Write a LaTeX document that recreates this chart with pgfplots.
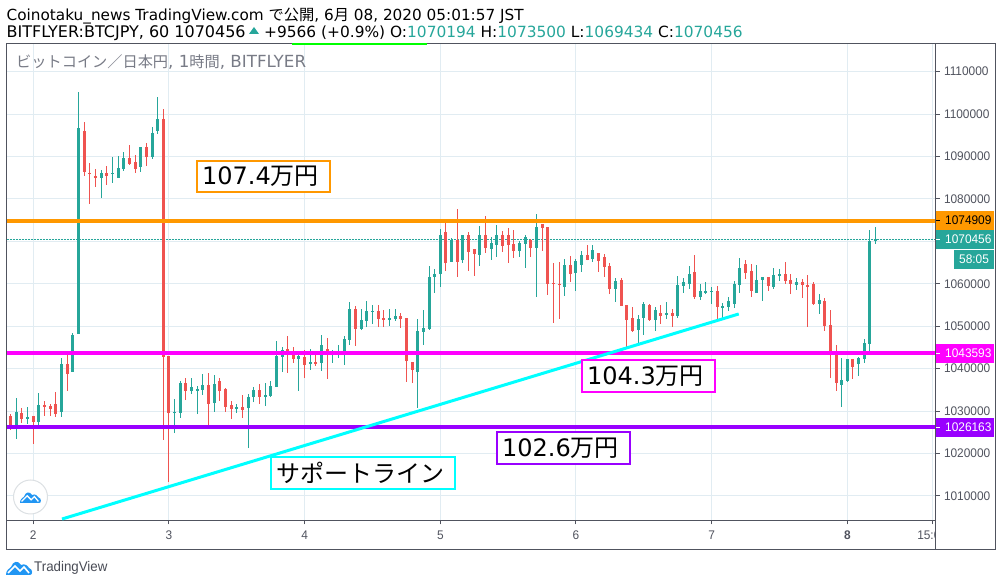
\documentclass[border=0pt]{standalone}
\usepackage{fontspec}
\usepackage{pgfplots}
\usepackage{pgfplotstable}
\pgfplotsset{compat=1.18}
\setmainfont{DejaVu Sans}
\newfontfamily\cjk{Noto Sans CJK JP}
\newfontfamily\tickf[FakeStretch=0.95]{Liberation Sans}
\definecolor{tvup}{HTML}{26A69A}
\definecolor{tvdn}{HTML}{EF5350}
\definecolor{tvgrid}{HTML}{E1ECF2}
\definecolor{tvframe}{HTML}{50535E}
\definecolor{tvorange}{HTML}{FF9800}
\definecolor{tvpurple}{HTML}{9900FF}
\definecolor{tvblue}{HTML}{2196F3}
\definecolor{tvgray}{HTML}{787B86}
\definecolor{tvmag}{HTML}{FF00FF}
\definecolor{tvcyan}{HTML}{00FFFF}
\definecolor{tvlime}{HTML}{00FF00}

% i open high low close
\pgfplotstableread{
i o h l c
-3 1026700 1033200 1023500 1029900
-1 1028200 1031000 1027000 1028700
1 1027500 1034300 1026800 1031500
5 1029900 1042600 1028700 1041200
7 1039300 1048500 1039300 1048000
8 1048200 1105300 1048200 1096800
12 1085000 1086900 1080300 1086200
14 1085900 1089900 1083800 1086200
15 1085000 1090200 1085000 1087400
16 1087100 1091100 1086600 1089700
19 1087600 1092300 1086400 1092300
21 1089900 1097000 1089500 1095600
22 1096100 1104100 1095400 1098900
25 1029500 1032900 1024800 1029800
26 1029600 1037100 1028400 1036600
28 1034700 1037800 1034000 1035700
29 1034700 1035900 1029300 1035200
30 1035000 1038700 1033800 1036200
32 1031900 1038500 1029800 1036400
36 1030500 1031700 1029600 1031000
38 1030700 1034000 1021300 1033300
39 1033300 1035700 1032100 1035000
41 1033300 1036600 1031200 1033800
42 1033600 1037100 1033300 1035900
43 1035700 1046500 1035700 1043000
44 1042800 1045100 1039200 1044400
47 1042300 1043500 1034800 1043000
49 1041100 1044700 1039700 1041600
51 1041400 1048000 1039500 1045600
53 1043700 1044400 1041400 1044000
54 1043800 1045600 1042500 1044000
55 1044000 1047700 1040900 1047000
56 1046800 1055700 1045600 1054100
58 1049400 1054100 1049100 1051500
59 1051300 1056000 1049800 1053600
60 1053400 1055000 1050600 1053600
63 1051500 1054100 1050100 1052000
64 1051700 1054100 1051300 1052400
68 1039200 1051700 1030800 1048900
69 1048700 1053800 1045600 1049600
70 1049400 1064300 1049200 1061700
71 1061700 1063600 1057900 1062400
72 1062200 1073000 1059300 1071600
74 1065200 1070900 1065200 1070400
76 1065500 1071600 1065000 1071600
79 1066900 1073700 1064300 1071600
81 1068300 1071100 1065700 1069700
82 1069200 1073900 1066400 1071400
86 1067800 1070200 1066400 1069700
87 1069500 1071600 1063800 1071100
89 1068500 1076500 1057000 1073500
94 1059300 1065900 1057200 1064500
96 1062600 1065900 1058400 1065400
97 1064500 1067800 1062800 1066800
99 1065900 1069200 1065200 1068000
103 1058800 1061400 1055800 1060700
107 1049200 1052700 1046100 1051800
108 1052000 1055800 1048000 1055300
110 1051500 1054600 1048900 1053900
112 1052700 1055800 1051800 1053200
114 1052500 1061900 1052000 1059800
115 1059500 1061400 1057900 1060500
116 1060000 1064200 1058800 1062400
118 1056900 1060000 1056200 1058400
119 1057900 1060500 1057600 1058400
120 1058100 1059300 1055300 1058400
122 1054300 1055500 1052000 1054800
123 1054600 1056900 1053600 1056000
124 1055300 1060600 1054300 1060000
125 1059800 1066100 1057900 1063800
128 1057900 1064500 1057900 1060900
129 1060900 1061700 1056000 1061700
131 1059300 1063800 1058800 1062100
132 1061900 1063500 1060700 1062400
135 1059800 1061400 1058600 1060500
139 1055300 1057600 1052900 1056200
143 1036200 1042600 1031000 1037400
144 1037100 1042300 1036900 1042300
146 1041100 1042800 1038300 1042600
147 1042300 1047000 1041400 1046100
148 1045900 1072700 1044200 1070100
149 1070194 1073500 1069434 1070456
}\upcandles

\pgfplotstableread{
i o h l c
-4 1028900 1029400 1025600 1026700
-2 1029600 1030800 1027300 1028200
0 1028900 1028900 1022300 1027500
2 1031500 1032400 1028900 1031000
3 1031300 1031700 1028900 1030600
4 1031700 1034600 1028700 1029400
6 1041200 1043300 1034800 1038800
9 1096100 1098200 1085500 1086400
10 1086200 1088500 1078900 1085900
11 1085500 1087100 1082900 1085000
13 1086200 1087800 1083300 1085500
17 1089700 1092800 1088100 1088300
18 1088800 1090400 1086200 1087100
20 1092300 1093200 1087800 1089900
23 1098900 1101300 1023300 1042800
24 1043000 1043100 1013300 1029500
27 1036600 1037800 1032600 1034700
31 1036200 1039000 1026700 1031700
33 1037100 1037800 1032400 1034700
34 1035200 1035400 1029800 1031000
35 1031400 1032400 1028100 1030500
37 1031000 1033800 1028400 1030300
40 1035000 1036400 1031700 1033300
45 1044700 1047700 1039000 1043700
46 1043500 1045100 1041400 1042300
48 1042800 1044400 1037800 1040900
50 1041600 1043200 1040700 1041100
52 1044700 1047300 1037600 1044000
57 1054100 1054800 1045400 1049400
61 1053600 1055000 1049800 1051700
62 1052000 1053800 1049800 1051500
65 1052400 1053100 1049600 1051700
66 1052000 1052000 1036900 1041800
67 1041600 1041600 1036600 1039700
73 1072100 1074700 1063100 1064800
75 1070400 1077700 1061700 1065200
77 1071600 1072100 1063100 1067600
78 1068100 1068100 1061900 1067100
80 1071600 1076100 1067300 1068500
83 1071400 1072500 1067600 1069000
84 1071600 1073200 1065000 1069200
85 1069500 1072800 1066200 1067800
88 1070400 1070600 1066400 1068500
90 1074200 1074200 1067800 1073200
91 1073500 1073500 1057400 1060000
92 1060300 1065000 1050800 1060000
93 1060000 1065200 1051800 1059800
95 1064500 1066600 1060500 1062200
98 1066800 1069200 1065500 1065700
100 1067300 1067300 1062800 1065400
101 1066400 1067100 1061700 1064000
102 1064200 1064900 1057600 1058800
104 1060900 1061400 1054800 1054800
105 1055100 1055100 1045200 1051500
106 1052000 1054600 1048700 1048900
109 1055100 1055300 1051300 1051500
111 1053200 1055100 1050600 1052500
113 1053200 1054100 1049900 1052500
117 1062800 1066800 1056500 1056900
121 1058400 1059500 1051500 1054600
126 1064700 1065700 1061200 1062600
127 1063100 1064700 1056900 1058400
130 1061700 1061700 1058400 1059500
133 1062400 1065200 1060000 1060700
134 1060900 1062400 1057600 1060000
136 1060500 1061200 1056700 1059800
137 1059800 1062100 1049900 1059300
138 1060000 1060500 1055100 1055300
140 1056000 1056700 1048900 1050100
141 1050300 1053900 1037800 1043300
142 1043300 1045600 1034800 1036700
145 1042300 1042300 1037600 1040400
}\downcandles

\pgfplotsset{
  tvaxis/.style={
    at={(6.5pt,65.5pt)}, anchor=south west,
    width=929pt, height=477pt, scale only axis,
    scaled y ticks=false,
    xmin=-4.74, xmax=159.6, ymin=1004220, ymax=1116647,
  },
  wicks/.style={draw=none, mark=none, forget plot,
    error bars/.cd, y dir=plus, y explicit, error mark=none,
    error bar style={color=#1, line width=1pt}},
  bodies/.style={draw=none, mark=none, forget plot,
    error bars/.cd, y dir=plus, y explicit, error mark=none,
    error bar style={color=#1, line width=3pt}},
}

\begin{document}
\begin{tikzpicture}
\path[use as bounding box] (0,0) rectangle (1002pt,586pt);
\begin{axis}[tvaxis,
    axis line style={color=tvframe, line width=1pt},
    grid=major, major grid style={color=tvgrid, line width=1pt},
    xtick={0,24,48,72,96,120,144,159},
    xticklabels={2,3,4,5,6,7,{\bfseries 8},15:00},
    xtick pos=bottom, tick align=outside,
    major tick length=4pt,
    tick style={color=tvframe, line width=1pt},
    xticklabel style={font=\tickf\fontsize{12.5}{14}\selectfont, text=tvframe, yshift=-3pt},
    ytick={1010000,1020000,1030000,1040000,1050000,1060000,1070000,1080000,1090000,1100000,1110000},
    yticklabels={}, ytick pos=right, y tick style={draw=none},
  ]
  % last price dotted line
  \addplot[tvup, line width=1pt, dash pattern=on 2pt off 1pt, forget plot] coordinates {(-4.74,1070456) (159.6,1070456)};
  % candles: wicks, then bodies
  \addplot[wicks=tvup] table[x=i, y=l, y error plus expr=\thisrow{h}-\thisrow{l}] {\upcandles};
  \addplot[wicks=tvdn] table[x=i, y=l, y error plus expr=\thisrow{h}-\thisrow{l}] {\downcandles};
  \addplot[bodies=tvup] table[x=i, y=o, y error plus expr=\thisrow{c}-\thisrow{o}] {\upcandles};
  \addplot[bodies=tvdn] table[x=i, y=c, y error plus expr=\thisrow{o}-\thisrow{c}] {\downcandles};
  % horizontal levels
  \addplot[tvorange, line width=4pt] coordinates {(-4.74,1074909) (159.6,1074909)};
  \addplot[tvmag, line width=4pt] coordinates {(-4.74,1043593) (159.6,1043593)};
  \addplot[tvpurple, line width=4pt] coordinates {(-4.74,1026163) (159.6,1026163)};
  % support line
  \addplot[tvcyan, line width=3pt] coordinates {(5.08,1004570) (124.8,1052900)};
\end{axis}

% price pane background hides the clipped part of the last time label
\begin{scope}[shift={(0,586pt)},x=1pt,y=-1pt]
  \fill[white] (936,44) rectangle (995,549);
\end{scope}

\begin{axis}[tvaxis,
    hide x axis,
    axis y line*=right,
    axis line style={color=tvframe, line width=1pt},
    ytick={1010000,1020000,1030000,1040000,1050000,1060000,1080000,1090000,1100000,1110000},
    yticklabels={1010000,1020000,1030000,1040000,1050000,1060000,1080000,1090000,1100000,1110000},
    tick align=outside, major tick length=4pt,
    tick style={color=tvframe, line width=1pt},
    yticklabel style={font=\tickf\fontsize{12.5}{14}\selectfont, text=tvframe, anchor=west, xshift=1pt},
  ]
  \addplot[draw=none, forget plot] coordinates {(0,1050000)};
\end{axis}

\begin{scope}[shift={(0,586pt)},x=1pt,y=-1pt]
  % outer frame
  \draw[tvframe, line width=1pt] (6.5,43.5) rectangle (995.5,549.5);
  \draw[tvframe, line width=1pt] (935.5,43.5) -- (935.5,549.5);
  % price tags
  \newcommand\tag[5]{%
    \fill[#3] (#1,#2) rectangle (994,{#2+19});
    \draw[#4, line width=1pt] (936,{#2+9.5}) -- (940,{#2+9.5});
    \node[anchor=west, inner sep=0, text=#4, font=\tickf\fontsize{12.5}{14}\selectfont] at (945,{#2+9.5}) {#5};}
  \tag{936}{211}{tvorange}{black}{1074909}
  \tag{936}{230}{tvup}{white}{1070456}
  \tag{936}{344}{tvmag}{white}{1043593}
  \tag{936}{418}{tvpurple}{white}{1026163}
  \fill[tvup] (954,250) rectangle (994,269);
  \node[inner sep=0, text=white, font=\tickf\fontsize{12.5}{14}\selectfont] at (974,259.5) {58:05};

  % header
  \node[anchor=base west, inner sep=0, font=\fontsize{15.27}{18}\selectfont] at (6.5,20.5)
    {Coinotaku\_news TradingView.com {\cjk で公開}, 6{\cjk 月} 08, 2020 05:01:57 JST};
  \node[anchor=base west, inner sep=0, font=\fontsize{16}{18}\selectfont] at (6.5,37.5)
    {BITFLYER:BTCJPY, 60 1070456};
  \fill[tvup] (249,34) -- (259,34) -- (254,27) -- cycle;
  \node[anchor=base west, inner sep=0, font=\fontsize{15.4}{18}\selectfont] at (264,37.5)
    {+9566 (+0.9\%) O:\textcolor{tvup}{1070194} H:\textcolor{tvup}{1073500} L:\textcolor{tvup}{1069434} C:\textcolor{tvup}{1070456}};
  \fill[tvlime] (292,43) rectangle (427,45);

  % symbol line
  \node[anchor=base west, inner sep=0, text=tvgray, font=\fontsize{16.7}{18}\selectfont] at (16,68)
    {{\cjk\fontsize{15.2}{18}\selectfont ビットコイン／日本円}, 1{\cjk\fontsize{15.2}{18}\selectfont 時間}, BITFLYER};

  % annotation boxes
  \newcommand\lbl[6]{%
    \draw[line width=2pt, draw=#5, fill=white] (#1,#2) rectangle (#3,#4);
    \node[inner sep=0, font=\fontsize{24}{28}\selectfont] at ({(#1+#3)/2-3},{(#2+#4)/2}) {#6};}
  \lbl{197}{161}{330}{192}{tvorange}{107.4{\cjk 万円}}
  \lbl{582}{360}{715}{392}{tvmag}{104.3{\cjk 万円}}
  \lbl{497}{432}{630}{464}{tvpurple}{102.6{\cjk 万円}}
  \lbl{271}{457}{455}{489}{tvcyan}{{\cjk サポートライン}}

  % logo badge
  \newcommand\cloud[3]{%
    \begin{scope}[shift={(#1,#2)},scale=#3]
      \fill[tvblue] (0,15) .. controls (0,10) and (3,9) .. (5,7)
        .. controls (7,1) and (12,0) .. (15,5)
        .. controls (19,3) and (22,6) .. (23,8)
        .. controls (27,9) and (27,15) .. (24,15) -- cycle;
      \draw[white, line width=1.6pt*#3] (2,13) -- (9,6) -- (14,11) -- (18,7) -- (23,13);
    \end{scope}}
  \draw[tvgrid!70!gray!60!white, line width=1pt, fill=white] (30.5,497) circle (17);
  \cloud{20}{491}{0.8}
  \cloud{6}{560}{1}
  \node[anchor=base west, inner sep=0, text=tvframe!90!black, font=\tickf] at (34,572) {\fontsize{14}{16}\selectfont TradingView};
\end{scope}
\end{tikzpicture}
\end{document}
